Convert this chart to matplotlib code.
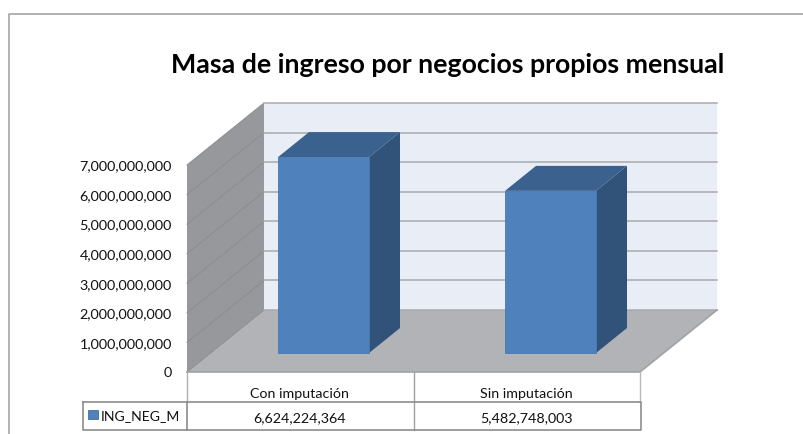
from matplotlib import pyplot as plt
from matplotlib.patches import Polygon, Rectangle

categories = ['Con imputación', 'Sin imputación']
values = [6624224364, 5482748003]
value_labels = ['6,624,224,364', '5,482,748,003']
ticks = [0, 1000000000, 2000000000, 3000000000, 4000000000, 5000000000, 6000000000, 7000000000]
series_name = 'ING_NEG_M'
title = 'Masa de ingreso por negocios propios mensual'

plt.rcParams['font.family'] = ['Lato', 'DejaVu Sans']

W, H = 804, 435
fig = plt.figure(figsize=(W/100, H/100), dpi=100)
ax = fig.add_axes([0, 0, 1, 1])
ax.set_xlim(0, W)
ax.set_ylim(H, 0)
ax.axis('off')

# pixel layout of the fake 3d box
x0, x1 = 187, 640
y0 = 373
dx, dy = 77, -62
per_unit = 207/7e9
bar_w = 91
bar_lift = 19
bar_dx, bar_dy = 31, -25
bar_left = [278, 505]

def vy(v):
    return y0 - v*per_unit

def poly(pts, fc, ec='none', lw=0, z=1):
    ax.add_patch(Polygon(pts, closed=True, fc=fc, ec=ec, lw=lw, zorder=z))

# outer frame, only top and left show
ax.plot([9, 9, W], [H, 15, 15], color='#a6a6a6', lw=1.2, zorder=0)

# walls and floor
top = vy(ticks[-1])
poly([(x0+dx, top+dy), (x1+dx, top+dy), (x1+dx, y0+dy), (x0+dx, y0+dy)], '#e8edf6')
poly([(x0, y0), (x0, top), (x0+dx, top+dy), (x0+dx, y0+dy)], '#96989b')
poly([(x0, y0), (x0+dx, y0+dy), (x1+dx, y0+dy), (x1, y0)], '#b1b3b6')
for t in ticks:
    y = vy(t)
    ax.plot([x0, x0+dx], [y, y+dy], color='#8a8c8f', lw=0.7, zorder=2)
    ax.plot([x0+dx, x1+dx], [y+dy, y+dy], color='#a8aaad', lw=1.1, zorder=2)
    ax.text(172, y+0.5, f'{t:,}', ha='right', va='center', fontsize=10.4, color='#111111')
ax.plot([x0, x1, x1+dx], [y0, y0, y0+dy], color='#a0a2a5', lw=1.2, zorder=2)

# bars
for left, v in zip(bar_left, values):
    b = y0 - bar_lift
    t = b - v*per_unit
    r = left + bar_w
    poly([(r, b), (r, t), (r+bar_dx, t+bar_dy), (r+bar_dx, b+bar_dy)], '#315279', z=3)
    poly([(left, t), (r, t), (r+bar_dx, t+bar_dy), (left+bar_dx, t+bar_dy)], '#3b618f', z=3)
    ax.add_patch(Rectangle((left, t), bar_w, b-t, fc='#4f81bd', ec='#4a78b0', lw=0.6, zorder=4))

# data table under the plot
c = '#8c8c8c'
ax.plot([x0, x0], [y0, 403], color='#b0b0b0', lw=1, zorder=5)
ax.plot([x0, x0], [403, 431], color=c, lw=1.2, zorder=5)
ax.plot([414, 414], [y0, 431], color='#a0a0a0', lw=1, zorder=5)
ax.plot([x1, x1], [y0, 403], color='#b8b8b8', lw=1, zorder=5)
ax.plot([83, 641, 641, 83, 83], [403, 403, 431, 431, 403], color=c, lw=1.2, zorder=5)
centers = [299.5, 526.5]
for cx, cat, lab in zip(centers, categories, value_labels):
    ax.text(cx, 394, cat, ha='center', va='center', fontsize=10.3, color='#111111')
    ax.text(cx, 418, lab, ha='center', va='center', fontsize=10.3, color='#111111')
ax.add_patch(Rectangle((88, 411), 10, 9, fc='#4f81bd', ec='#41719f', lw=0.6, zorder=5))
ax.text(101, 416, series_name, ha='left', va='center', fontsize=10.1, color='#111111')

ax.text(447.5, 65, title, ha='center', va='center', fontsize=19.3, fontweight='bold', color='black')

fig.savefig('out.png', dpi=100)
